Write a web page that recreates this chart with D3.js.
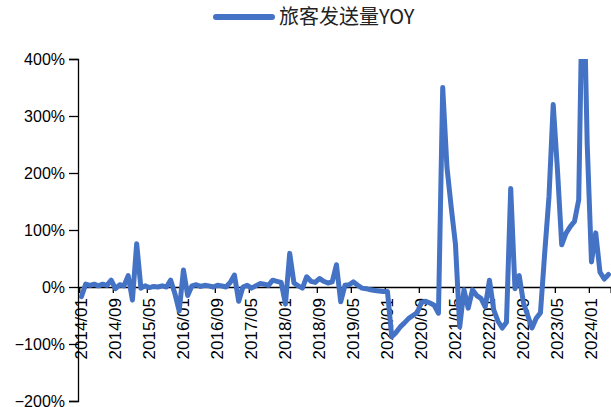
<!DOCTYPE html>
<html lang="zh">
<head>
<meta charset="utf-8">
<title>旅客发送量YOY</title>
<style>
    body { margin: 0; background: #fff; }
    .axis text { font-family: "Liberation Sans", Arial, sans-serif; fill: #000; }
    .axis path, .axis line { stroke: #000; stroke-width: 1.3px; }
    .legendText { font-family: "Noto Sans CJK SC", sans-serif; font-size: 20px; fill: #222; }
</style>
</head>
<body>
<script src="https://cdn.jsdelivr.net/npm/d3@7/dist/d3.min.js"></script>
<script>
    // monthly categories 2014/01 .. 2024/05
    let fmtMonth = d3.timeFormat("%Y/%m");
    let months = d3.timeMonth.range(new Date(2014, 0, 1), new Date(2024, 5, 1)).map(fmtMonth);

    let tickLabels = ["2014/01", "2014/09", "2015/05", "2016/01", "2016/09", "2017/05",
        "2018/01", "2018/09", "2019/05", "2020/01", "2020/09", "2021/05",
        "2022/01", "2022/09", "2023/05", "2024/01"];

    let yTicks = [-200, -100, 0, 100, 200, 300, 400];

    // 旅客发送量 YOY, %
    let yoy = [
        -17, 5, 3, 5, 2, 5, 3, 12, -3, 4, 2, 20,
        -23, 76, -2, 2, -1, 1, 0, 2, 0, 12, -12, -42,
        30, -15, 2, 4, 1, 3, 2, 0, 3, 2, 0, 8,
        21, -25, 0, 3, -2, 2, 6, 5, 3, 12, 10, 8,
        -30, 59, 7, 2, -2, 18, 10, 8, 15, 10, 7, 9,
        39, -26, 3, 4, 9, 3, -2, -3, -5, -6, -7, -8,
        -8, -87, -80, -70, -63, -55, -50, -45, -27, -25, -28, -32,
        -46, 350, 210, 140, 75, -70, -5, -37, -5, -15, -20, -35,
        12, -40, -60, -72, -62, 173, -3, 20, -28, -50, -72, -55,
        -45, 60, 158, 320, 205, 74, 94, 106, 115, 153, 600, 250,
        44, 95, 26, 14, 22
    ];

    let width = 611, height = 407;
    let plot = {left: 79.3, right: 610.6, top: 59, bottom: 401};

    let svg = d3.select("body").append("svg")
        .attr("width", width)
        .attr("height", height);

    let x = d3.scaleBand()
        .domain(months)
        .range([plot.left, plot.right])
        .padding(0);

    let y = d3.scaleLinear()
        .domain([-200, 400])
        .range([plot.bottom, plot.top]);

    let bw = x.bandwidth();

    // y axis
    svg.append("g")
        .attr("class", "axis")
        .attr("transform", "translate(78,0)")
        .call(d3.axisLeft(y)
            .tickValues(yTicks)
            .tickSizeOuter(0)
            .tickSize(9)
            .tickPadding(4)
            .tickFormat(function(d) { return (d < 0 ? "\u2212" : "") + Math.abs(d) + "%"; }))
        .selectAll("text")
        .style("font-size", "16px");

    // x axis on the 0% line, ticks between categories
    let xAxis = svg.append("g")
        .attr("class", "axis")
        .attr("transform", "translate(0," + y(0) + ")")
        .call(d3.axisBottom(x)
            .tickValues(tickLabels)
            .tickSizeOuter(0)
            .tickSize(6));

    xAxis.selectAll(".tick line")
        .attr("x1", -bw / 2)
        .attr("x2", -bw / 2);

    xAxis.selectAll(".tick text")
        .attr("transform", "rotate(-90)")
        .attr("x", -11)
        .attr("y", 0)
        .attr("dy", "0.35em")
        .style("text-anchor", "end")
        .style("font-size", "17px");

    svg.append("clipPath")
        .attr("id", "plotClip")
        .append("rect")
        .attr("x", 70)
        .attr("y", plot.top)
        .attr("width", width - 70)
        .attr("height", plot.bottom - plot.top);

    let line = d3.line()
        .x(function(d, i) { return x(months[i]) + bw / 2; })
        .y(function(d) { return y(d); });

    svg.append("path")
        .datum(yoy)
        .attr("clip-path", "url(#plotClip)")
        .attr("d", line)
        .attr("fill", "none")
        .attr("stroke", "#4472C4")
        .attr("stroke-width", 5)
        .attr("stroke-linejoin", "round")
        .attr("stroke-linecap", "round");

    // legend
    let legend = svg.append("g");
    legend.append("line")
        .attr("x1", 216).attr("x2", 272)
        .attr("y1", 17).attr("y2", 17)
        .attr("stroke", "#4472C4")
        .attr("stroke-width", 6)
        .attr("stroke-linecap", "round");
    legend.append("text")
        .attr("class", "legendText")
        .attr("x", 279)
        .attr("y", 17)
        .attr("dy", "0.36em")
        .text("旅客发送量YOY");
</script>
</body>
</html>
